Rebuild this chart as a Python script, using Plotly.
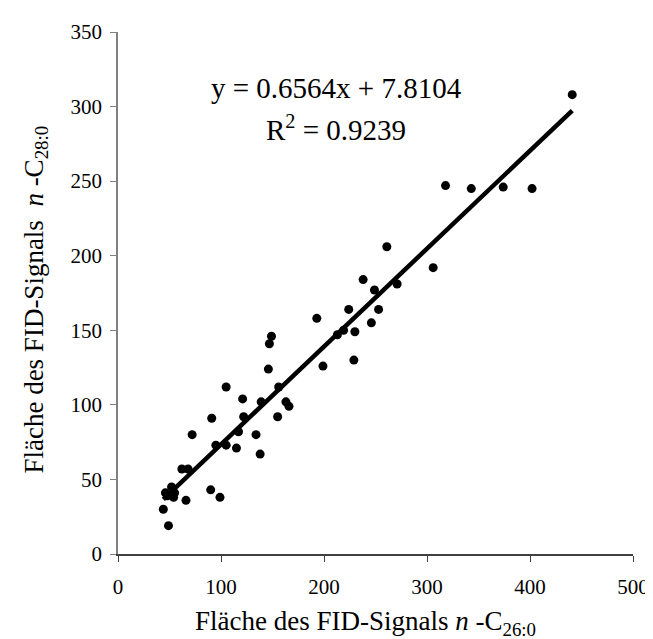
import plotly.graph_objects as go

# Data
area_c26 = [441, 402, 374, 343, 318, 306, 261, 271, 249, 238, 253, 224, 246, 219, 230,
            213, 193, 199, 229, 149, 147, 146, 156, 105, 121, 139, 163, 166, 91, 122,
            155, 72, 117, 134, 95, 105, 115, 138, 62, 68, 46, 52, 55, 54, 48, 90, 99,
            66, 44, 49]
area_c28 = [308, 245, 246, 245, 247, 192, 206, 181, 177, 184, 164, 164, 155, 150, 149,
            147, 158, 126, 130, 146, 141, 124, 112, 112, 104, 102, 102, 99, 91, 92,
            92, 80, 82, 80, 73, 73, 71, 67, 57, 57, 41, 45, 41, 38, 39, 43, 38,
            36, 30, 19]

slope = 0.6564
intercept = 7.8104
r_squared = 0.9239

x_ticks = [0, 100, 200, 300, 400, 500]
y_ticks = [0, 50, 100, 150, 200, 250, 300, 350]

x_title = "Fläche des FID-Signals <i>n</i> -C<sub>26:0</sub>"
y_title = "Fläche des FID-Signals  <i>n</i> -C<sub>28:0</sub>"

font_family = "Liberation Serif, Times New Roman, serif"

x_min = min(area_c26)
x_max = max(area_c26)
line_x = [x_min, x_max]
line_y = [slope * v + intercept for v in line_x]

fig = go.Figure()
fig.add_trace(go.Scatter(
    x=line_x, y=line_y, mode="lines",
    line=dict(color="black", width=4.5),
    showlegend=False, hoverinfo="skip"))
fig.add_trace(go.Scatter(
    x=area_c26, y=area_c28, mode="markers",
    marker=dict(color="black", size=9),
    showlegend=False))

fig.add_annotation(
    x=212, y=312.7, xref="x", yref="y", showarrow=False,
    text=f"y = {slope}x + {intercept}",
    font=dict(family=font_family, size=29, color="black"))
fig.add_annotation(
    x=212, y=285.5, xref="x", yref="y", showarrow=False,
    text=f"R<sup>2</sup> = {r_squared}",
    font=dict(family=font_family, size=29, color="black"))

# axis titles
fig.add_annotation(
    x=0.481, y=-0.133, xref="paper", yref="paper", showarrow=False,
    xanchor="center", yanchor="middle", text=x_title,
    font=dict(family=font_family, size=27, color="black"))
fig.add_annotation(
    x=-0.159, y=0.4876, xref="paper", yref="paper", showarrow=False,
    xanchor="center", yanchor="middle", textangle=-90, text=y_title,
    font=dict(family=font_family, size=27, color="black"))

fig.update_layout(
    width=653, height=639,
    margin=dict(l=110, r=21, t=21, b=93),
    plot_bgcolor="white", paper_bgcolor="white",
    font=dict(family=font_family, color="black"),
)
fig.update_xaxes(
    range=[0, 500], tickvals=x_ticks, showgrid=False, zeroline=False,
    showline=True, linecolor="#404040", linewidth=1.5,
    ticks="outside", ticklen=6, tickcolor="#404040",
    ticklabelstandoff=7,
    tickfont=dict(family=font_family, size=21, color="black"),
)
fig.update_yaxes(
    range=[0, 350], tickvals=y_ticks, showgrid=False, zeroline=False,
    showline=True, linecolor="#808080", linewidth=1.5,
    ticks="outside", ticklen=6, tickcolor="#808080",
    ticklabelstandoff=4,
    tickfont=dict(family=font_family, size=21, color="black"),
)

fig.write_html("out.html")
